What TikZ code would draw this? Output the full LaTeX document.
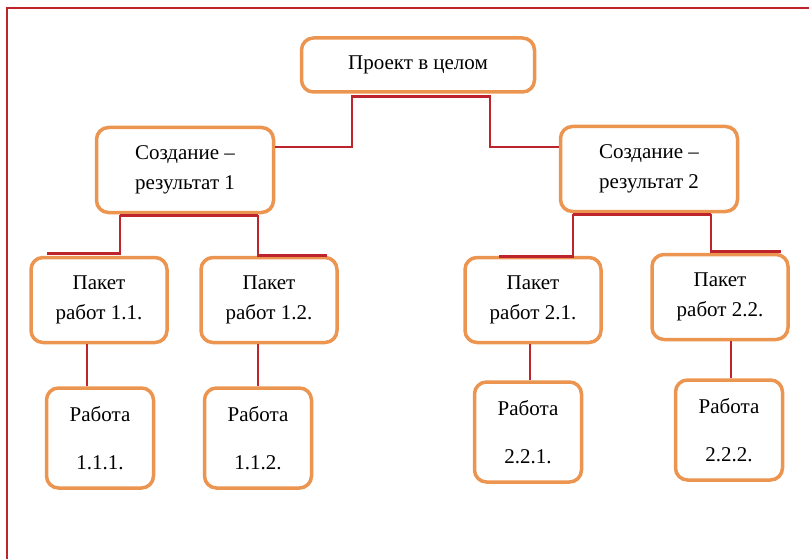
\documentclass[tikz,border=0pt]{standalone}
\usepackage{fontspec}
\setmainfont{Liberation Serif}
\usepackage{xcolor}
\usetikzlibrary{positioning}
\usetikzlibrary{calc}

\definecolor{boxorange}{RGB}{236,149,80}
\definecolor{linered}{RGB}{190,36,44}

\begin{document}
\begin{tikzpicture}[
    x=1pt, y=-1pt,
    box/.style={draw=boxorange, line width=3.5pt, rounded corners=12pt, fill=white,
        align=center, inner sep=0pt, font=\fontsize{21}{30}\selectfont},
    res/.style={box, minimum width=177pt, minimum height=85pt},
    pack/.style={box, minimum width=136pt, minimum height=85pt},
    work/.style={box, minimum width=107pt, minimum height=100pt,
        font=\fontsize{21}{48}\selectfont},
    link/.style={draw=linered, line width=2.8pt},
    frame/.style={draw=linered, line width=2.5pt}
]
    \useasboundingbox (0,0) rectangle (809,559);

    % Outer frame (top and left only)
    \draw[frame] (7,559) -- (7,8) -- (809,8);

    % Project
    \node[box, minimum width=233pt, minimum height=54pt] (top) at (418,65) {Проект в целом};

    % Results
    \node[res] (res1) at (185,170) {Создание –\\результат 1};
    \node[res] (res2) at (649,169) {Создание –\\результат 2};

    % Work packages
    \node[pack] (p11) at (99,300) {Пакет\\работ 1.1.};
    \node[pack] (p12) at (269,300) {Пакет\\работ 1.2.};
    \node[pack] (p21) at (533,300) {Пакет\\работ 2.1.};
    \node[pack] (p22) at (720,297) {Пакет\\работ 2.2.};

    % Works
    \node[work] (w111) at (100,438) {Работа\\1.1.1.};
    \node[work] (w112) at (258,438) {Работа\\1.1.2.};
    \node[work] (w221) at (528,432) {Работа\\2.2.1.};
    \node[work] (w222) at (729,430) {Работа\\2.2.2.};

    % Project -> results
    \draw[link] ($(res1.east)+(0,-23)$) -| ($(top.south)+(-66,3)$)
        -- ($(top.south)+(72,3)$) |- ($(res2.west)+(0,-22)$);

    % Result 1 -> packages
    \draw[link] ($(res1.south)+(-65,1)$) -- ($(res1.south)+(73,1)$);
    \draw[link] ($(res1.south)+(-65,1)$) |- ($(p11.north)+(-52,-2)$);
    \draw[link] ($(res1.south)+(73,1)$) |- ($(p12.north)+(58,0)$);

    % Result 2 -> packages
    \draw[link] ($(res2.south)+(-76,1)$) -- ($(res2.south)+(62,1)$);
    \draw[link] ($(res2.south)+(-76,1)$) |- ($(p21.north)+(-34,1)$);
    \draw[link] ($(res2.south)+(62,1)$) |- ($(p22.north)+(61,-1)$);

    % Packages -> works
    \draw[link] ($(w111.north)+(-13,0)$) coordinate (a) -- (a |- p11.south);
    \draw[link] (w112.north) -- (w112.north |- p12.south);
    \draw[link] ($(w221.north)+(2,0)$) coordinate (b) -- (b |- p21.south);
    \draw[link] ($(w222.north)+(2,0)$) coordinate (c) -- (c |- p22.south);
\end{tikzpicture}
\end{document}
